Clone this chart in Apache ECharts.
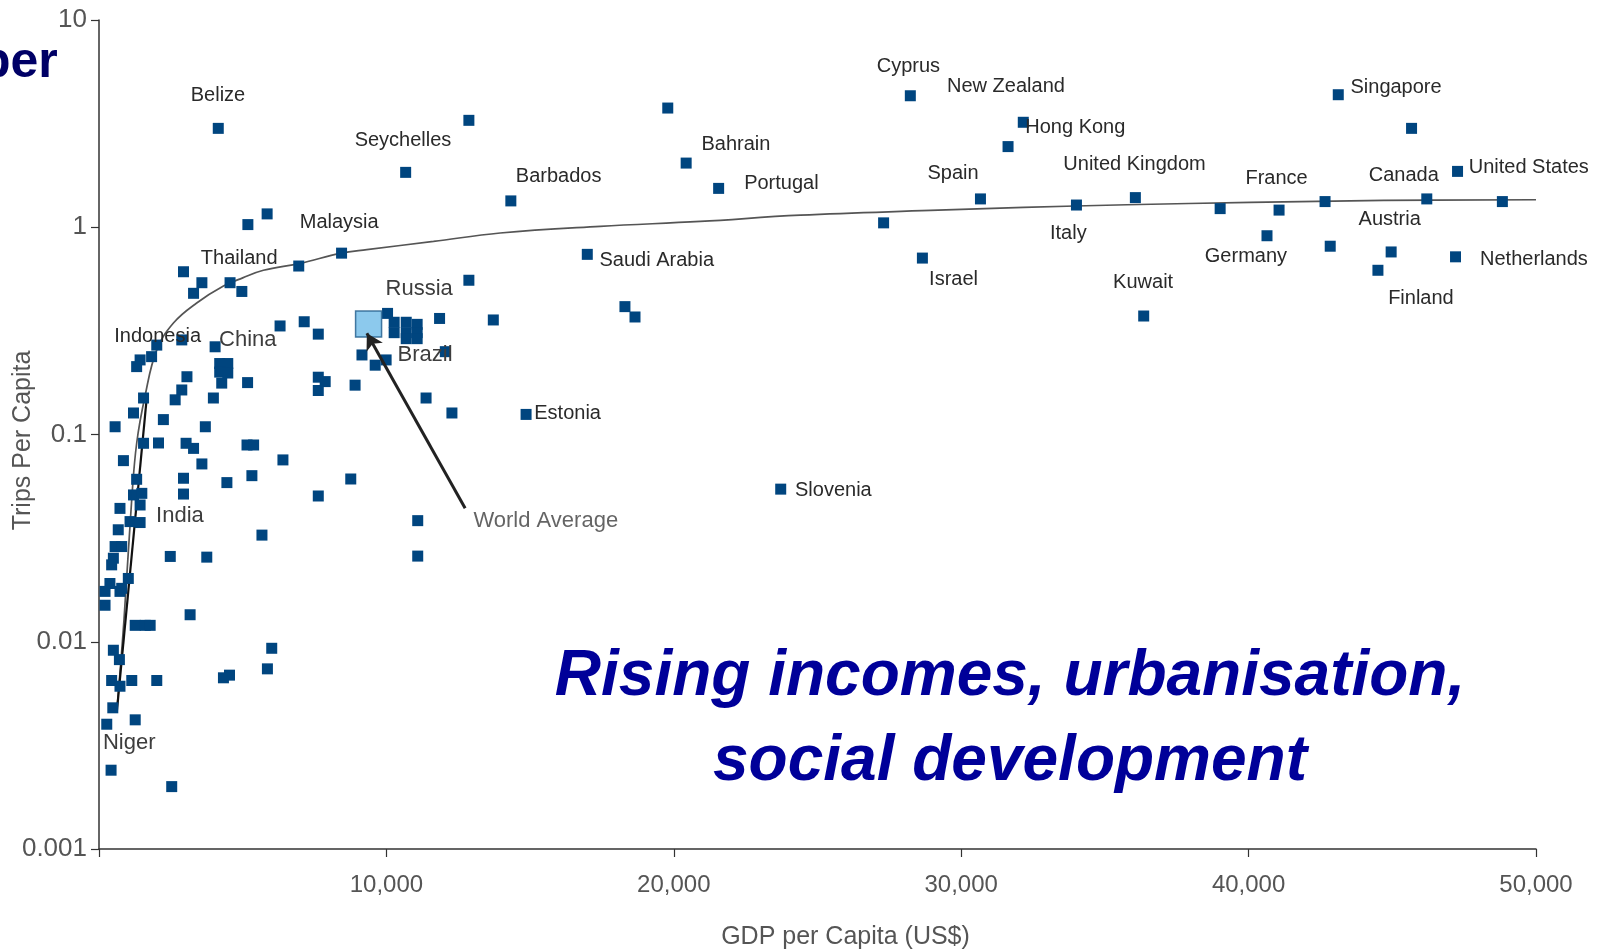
<!DOCTYPE html>
<html>
<head>
<meta charset="utf-8">
<script src="https://cdn.jsdelivr.net/npm/echarts@6/dist/echarts.min.js"></script>
<style>html,body{margin:0;padding:0;background:#fff;}#c{width:1598px;height:952px;}</style>
</head>
<body>
<div id="c"></div>
<script>
const xTickLabels = ['', '10,000', '20,000', '30,000', '40,000', '50,000'];
const yTickLabels = ['0.001', '0.01', '0.1', '1', '10'];

const labeledNames = ['Belize','Malaysia','Thailand','Seychelles','Barbados','Bahrain','Portugal','Saudi Arabia','Cyprus','Israel','Spain','New Zealand','Hong Kong','Italy','United Kingdom','Kuwait','Germany','France','Singapore','Austria','Finland','Canada','United States','Netherlands','Russia','Brazil','Estonia','Slovenia','China','India','Niger','Indonesia'];
const labeledGdp = [4150,8440,4560,10670,14330,20430,21560,16990,28230,28650,30670,31630,32160,34010,36060,36350,40640,41060,43120,44960,44500,46200,47270,47200,10040,9990,14860,23720,4040,1490,270,2010];
const labeledTrips = [3.0,0.75,0.54,1.84,1.34,2.04,1.54,0.74,4.31,0.71,1.37,2.45,3.21,1.28,1.39,0.373,0.91,1.21,4.36,0.76,0.62,1.37,1.86,0.72,0.384,0.229,0.125,0.0545,0.265,0.052,0.004,0.27];

const otherGdp = [5180,5850,6950,2940,3580,3290,4970,12870,19790,12870,18300,18650,27300,39010,42660,42840,45670,48830,
  10270,10690,11070,10270,10690,11070,10690,11070,11850,13720,9150,9610,12050,7630,7870,7630,8910,11380,12280,6400,7630,8760,11090,11090,
  6300,7140,7630,2880,4200,4480,4200,4480,4270,5170,3060,2880,2650,3980,1550,1200,2240,560,3700,1550,2070,3030,3290,5150,5380,
  850,1310,1200,730,1430,1080,1430,670,560,790,500,440,1020,380,210,730,790,210,2940,2940,2480,3750,4450,5320,5670,3580,3170,
  1260,1610,1780,500,710,440,1140,730,2010,4330,4540,6010,5860,480,1260,420,2530,1830,1430,1310];
const otherTrips = [1.03,1.16,0.65,0.61,0.54,0.48,0.49,3.28,3.76,0.555,0.414,0.369,1.05,1.23,1.33,0.81,3.0,1.33,
  0.348,0.348,0.34,0.31,0.31,0.31,0.29,0.29,0.363,0.357,0.242,0.216,0.251,0.189,0.18,0.163,0.173,0.15,0.127,0.0754,0.0505,0.061,0.0384,0.0259,
  0.334,0.35,0.305,0.286,0.22,0.22,0.2,0.198,0.177,0.178,0.19,0.164,0.147,0.15,0.15,0.127,0.118,0.109,0.109,0.0907,0.091,0.0907,0.0857,0.089,0.089,
  0.0748,0.0608,0.0511,0.044,0.0457,0.038,0.0376,0.0347,0.0288,0.0288,0.0253,0.0235,0.0202,0.0191,0.0175,0.0175,0.0181,0.015,0.0615,0.0516,0.0258,0.0256,0.0586,0.0633,0.0327,0.0721,0.0135,
  0.012,0.012,0.012,0.0091,0.0082,0.0065,0.0065,0.0061,0.0065,0.0067,0.0069,0.0093,0.0074,0.0048,0.0042,0.0024,0.002,0.2375,0.229,0.2126];

const worldAvg = [9380, 0.341];
const arrowFrom = [12740, 0.0441];
const arrowTo = [9320, 0.308];

const curveGdp = [616,870,1138,1312,1600,2010,2590,3400,4330,5000,5720,7000,8420,9320,11640,13960,17440,20920,24400,28930,32170,35770,40060,44700,50000];
const curveTrips = [0.00455,0.0128,0.0485,0.091,0.153,0.256,0.345,0.431,0.52,0.57,0.62,0.67,0.75,0.78,0.854,0.938,1.01,1.067,1.143,1.205,1.246,1.284,1.317,1.347,1.357];
const steepGdp = [616, 1670];
const steepTrips = [0.00454, 0.155];

// label placement (style only): [dx, dy, fontKind] relative to the mark centre
const labelStyle = {
  'Belize':[-27.5,-32.6,'n'],'Seychelles':[-51,-31.6,'n'],'Barbados':[5,-24.5,'n'],'Bahrain':[15.3,-18.3,'n'],
  'Portugal':[25.5,-5,'n'],'Malaysia':[-41.8,-30.6,'n'],'Thailand':[-29.2,-24.5,'n'],'Indonesia':[-42.5,-8.7,'n'],
  'China':[4,-7.3,'r'],'India':[14.3,22.4,'r'],'Niger':[-3.8,19,'r'],'Russia':[-2,-24,'r'],'Brazil':[11.4,-5.4,'r'],
  'Saudi Arabia':[12.2,6.1,'n'],'Estonia':[8.2,-1,'n'],'Slovenia':[14.3,1,'n'],'Cyprus':[-33.6,-29.6,'n'],
  'New Zealand':[-61,-60,'n'],'Hong Kong':[2,5,'n'],'Spain':[-53,-25.5,'n'],'Israel':[6.7,21,'n'],'Italy':[-26.5,28.5,'n'],
  'United Kingdom':[-72,-33.6,'n'],'Kuwait':[-30.6,-33.6,'n'],'Germany':[-62.2,20.4,'n'],'France':[-33.6,-31.6,'n'],
  'Singapore':[12.2,-7.1,'n'],'Canada':[-58,-23.4,'n'],'United States':[11.2,-4,'n'],'Austria':[-32.6,-32.6,'n'],
  'Netherlands':[24.5,3,'n'],'Finland':[10.2,28.5,'n'],'World Average':[105.6,197.7,'r']
};
const FONT = "'Liberation Sans', Arial, sans-serif";
function mkLabel(name, half){
  const s = labelStyle[name];
  return {
    show: true, position: [half + s[0], half + s[1]], align: 'left', verticalAlign: 'middle',
    formatter: name, fontFamily: FONT,
    fontSize: s[2] === 'n' ? 20 : 22,
    color: s[2] === 'n' ? '#2a2a2a' : '#3d3d3d'
  };
}

const pointColor = '#00457f';
const scatterData = [];
for (let i = 0; i < otherGdp.length; i++) scatterData.push({ value: [otherGdp[i], otherTrips[i]] });
for (let i = 0; i < labeledNames.length; i++) scatterData.push({ name: labeledNames[i], value: [labeledGdp[i], labeledTrips[i]], label: mkLabel(labeledNames[i], 5.5) });

const chart = echarts.init(document.getElementById('c'), null, { renderer: 'canvas' });
chart.setOption({
  animation: false,
  backgroundColor: '#ffffff',
  grid: { left: 99, right: 62, top: 20, bottom: 103, containLabel: false, outerBoundsMode: 'none' },
  xAxis: {
    type: 'value', min: 0, max: 50000, interval: 10000,
    name: 'GDP per Capita (US$)', nameLocation: 'middle', nameGap: 76, nameMoveOverlap: false,
    nameTextStyle: { fontFamily: FONT, fontSize: 25, color: '#555', padding: [0, 0, 0, 56] },
    axisLine: { show: true, lineStyle: { color: '#333', width: 1.5 } },
    axisTick: { show: true, length: 8, lineStyle: { color: '#333', width: 1.2 } },
    axisLabel: { margin: 24, fontFamily: FONT, fontSize: 24, color: '#555',
      formatter: v => xTickLabels[Math.round(v / 10000)] },
    splitLine: { show: false }
  },
  yAxis: {
    type: 'log', logBase: 10, min: 0.001, max: 10, interval: 1,
    name: 'Trips Per Capita', nameLocation: 'middle', nameGap: 63, nameRotate: 90, nameMoveOverlap: false,
    nameTextStyle: { fontFamily: FONT, fontSize: 25, color: '#555', padding: [0, 12, 0, 0] },
    axisLine: { show: true, lineStyle: { color: '#333', width: 1.5 } },
    axisTick: { show: true, length: 8, lineStyle: { color: '#333', width: 1.2 } },
    axisLabel: { margin: 12, fontFamily: FONT, fontSize: 26, color: '#555',
      formatter: v => yTickLabels[Math.round(Math.log10(v)) + 3] },
    splitLine: { show: false }, minorTick: { show: false }
  },
  graphic: [
    { type: 'text', left: -20, top: 38, style: { text: 'per', fontFamily: FONT, fontWeight: 'bold', fontSize: 50, fill: '#000066' } },
    { type: 'text', x: 1010, y: 677, style: { text: 'Rising incomes, urbanisation,', fontFamily: FONT, fontWeight: 'bold', fontStyle: 'italic', fontSize: 64, fill: '#000099', align: 'center', verticalAlign: 'middle' } },
    { type: 'text', x: 1010, y: 762, style: { text: 'social development', fontFamily: FONT, fontWeight: 'bold', fontStyle: 'italic', fontSize: 64, fill: '#000099', align: 'center', verticalAlign: 'middle' } }
  ],
  series: [
    {
      type: 'line', data: curveGdp.map((x, i) => [x, curveTrips[i]]), smooth: 0.4, showSymbol: false,
      lineStyle: { color: '#555', width: 1.7 }, z: 2, silent: true
    },
    {
      type: 'line', data: steepGdp.map((x, i) => [x, steepTrips[i]]), showSymbol: false,
      lineStyle: { color: '#111', width: 2.2 }, z: 2, silent: true
    },
    {
      type: 'scatter', symbol: 'rect', symbolSize: 11, data: scatterData,
      itemStyle: { color: pointColor, opacity: 1 }, z: 3,
      labelLayout: { hideOverlap: false }
    },
    {
      type: 'scatter', symbol: 'rect', symbolSize: 26,
      data: [{ name: 'World Average', value: worldAvg, label: mkLabel('World Average', 13) }],
      itemStyle: { color: '#6fbbe8', borderColor: '#1d5a8a', borderWidth: 1.5 }, z: 4,
      markLine: {
        silent: true, symbol: ['none', 'arrow'], symbolSize: [14, 16],
        lineStyle: { color: '#222', width: 3, type: 'solid' }, label: { show: false },
        data: [[{ coord: arrowFrom }, { coord: arrowTo }]]
      }
    }
  ]
});
</script>
</body>
</html>
